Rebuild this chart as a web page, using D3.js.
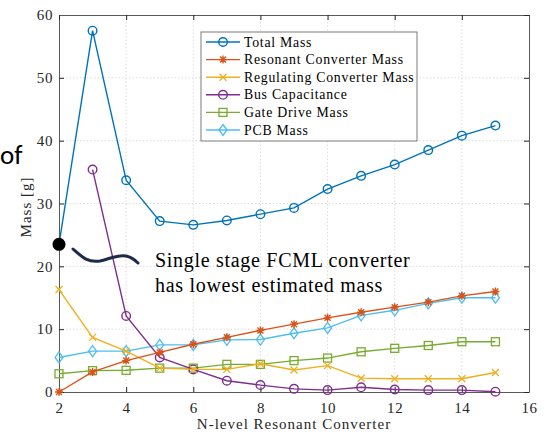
<!DOCTYPE html>
<html>
<head>
<meta charset="utf-8">
<script src="https://cdn.jsdelivr.net/npm/d3@7"></script>
<style>
  body { margin: 0; background: #fff; }
  svg { display: block; }
</style>
</head>
<body>
<svg id="chart" width="551" height="439"></svg>
<script>
// N-level values on the x axis
let levels = [2, 3, 4, 5, 6, 7, 8, 9, 10, 11, 12, 13, 14, 15];

let totalMass = [23.5, 57.5, 33.7, 27.2, 26.6, 27.3, 28.3, 29.3, 32.3, 34.4, 36.2, 38.5, 40.8, 42.4];
let resonantMass = [0, 3.2, 5.0, 6.3, 7.6, 8.7, 9.8, 10.8, 11.8, 12.7, 13.5, 14.3, 15.3, 16.0];
let regulatingMass = [16.3, 8.7, 6.5, 3.8, 3.6, 3.6, 4.5, 3.5, 4.2, 2.2, 2.1, 2.1, 2.1, 3.1];
let busCap = [null, 35.4, 12.1, 5.5, 3.6, 1.8, 1.1, 0.5, 0.3, 0.75, 0.4, 0.3, 0.3, 0.05];
let gateDrive = [2.9, 3.4, 3.45, 3.8, 3.8, 4.4, 4.4, 5.0, 5.4, 6.4, 6.95, 7.4, 8.0, 8.0];
let pcbMass = [5.5, 6.5, 6.5, 7.5, 7.5, 8.3, 8.35, 9.35, 10.2, 12.2, 13.0, 14.1, 15.0, 15.0];

let seriesNames = ['Total Mass', 'Resonant Converter Mass', 'Regulating Converter Mass',
  'Bus Capacitance', 'Gate Drive Mass', 'PCB Mass'];
let seriesValues = [totalMass, resonantMass, regulatingMass, busCap, gateDrive, pcbMass];
let seriesColors = ['#0072BD', '#D95319', '#EDB120', '#7E2F8E', '#77AC30', '#4DBEEE'];
let seriesMarkers = ['circle', 'asterisk', 'cross', 'circle', 'square', 'diamond'];

let xTicks = [2, 4, 6, 8, 10, 12, 14, 16];
let yTicks = [0, 10, 20, 30, 40, 50, 60];

let svg = d3.select('#chart');
let margin = { left: 59, right: 22, top: 15, bottom: 47 };
let width = 551 - margin.left - margin.right;
let height = 439 - margin.top - margin.bottom;
let serif = '"Liberation Serif", "Times New Roman", serif';

let x = d3.scaleLinear().domain([2, 16]).range([0, width]);
let y = d3.scaleLinear().domain([0, 60]).range([height, 0]);

// leftover slide text at the left edge
svg.append('text')
  .attr('x', 0).attr('y', 164)
  .style('font-family', 'Carlito, "Open Sans", sans-serif')
  .style('font-size', '27px')
  .attr('fill', '#000')
  .text('of');

let g = svg.append('g').attr('transform', `translate(${margin.left},${margin.top})`);

// grid
g.selectAll('.gx').data(xTicks.slice(1, -1)).enter().append('line')
  .attr('x1', (d) => x(d)).attr('x2', (d) => x(d))
  .attr('y1', 0).attr('y2', height)
  .attr('stroke', '#dcdcdc').attr('stroke-dasharray', '1.5,2');
g.selectAll('.gy').data(yTicks.slice(1, -1)).enter().append('line')
  .attr('y1', (d) => y(d)).attr('y2', (d) => y(d))
  .attr('x1', 0).attr('x2', width)
  .attr('stroke', '#dcdcdc').attr('stroke-dasharray', '1.5,2');

// axes, ticks inward on all sides
let axisStyle = (sel) => {
  sel.select('.domain').attr('stroke', '#5a5a5a');
  sel.selectAll('.tick line').attr('stroke', '#262626');
  sel.selectAll('text').style('font-family', serif).style('font-size', '15px')
    .style('letter-spacing', '0.6px').attr('fill', '#262626');
};
g.append('g').attr('transform', `translate(0,${height})`)
  .call(d3.axisBottom(x).tickValues(xTicks).tickSize(-5).tickPadding(10).tickSizeOuter(0))
  .call(axisStyle);
g.append('g')
  .call(d3.axisLeft(y).tickValues(yTicks).tickSize(-5).tickPadding(6).tickSizeOuter(0))
  .call(axisStyle);
g.append('g')
  .call(d3.axisTop(x).tickValues(xTicks).tickSize(-5).tickFormat('').tickSizeOuter(0))
  .call(axisStyle);
g.append('g').attr('transform', `translate(${width},0)`)
  .call(d3.axisRight(y).tickValues(yTicks).tickSize(-5).tickFormat('').tickSizeOuter(0))
  .call(axisStyle);

// axis labels
svg.append('text')
  .attr('x', margin.left + width / 2).attr('y', 429)
  .attr('text-anchor', 'middle')
  .style('font-family', serif).style('font-size', '15px').style('letter-spacing', '1px')
  .attr('fill', '#262626')
  .text('N-level Resonant Converter');
svg.append('text')
  .attr('transform', 'translate(31,207) rotate(-90)')
  .attr('text-anchor', 'middle')
  .style('font-family', serif).style('font-size', '15px').style('letter-spacing', '1px')
  .attr('fill', '#262626')
  .text('Mass [g]');

function drawMarker(sel, type, color) {
  if (type === 'circle') {
    sel.append('circle').attr('r', 4.3).attr('fill', 'none').attr('stroke', color).attr('stroke-width', 1.4);
  } else if (type === 'square') {
    sel.append('rect').attr('x', -4).attr('y', -4).attr('width', 8).attr('height', 8)
      .attr('fill', 'none').attr('stroke', color).attr('stroke-width', 1.3);
  } else if (type === 'diamond') {
    sel.append('path').attr('d', 'M0,-5.5L4,0L0,5.5L-4,0Z')
      .attr('fill', 'none').attr('stroke', color).attr('stroke-width', 1.3);
  } else if (type === 'cross') {
    sel.append('path').attr('d', 'M-3.5,-3.5L3.5,3.5M-3.5,3.5L3.5,-3.5')
      .attr('stroke', color).attr('stroke-width', 1.3);
  } else if (type === 'asterisk') {
    sel.append('path').attr('d', 'M-4,0L4,0M0,-4L0,4M-3,-3L3,3M-3,3L3,-3')
      .attr('stroke', color).attr('stroke-width', 1.4);
  }
}

let line = d3.line()
  .defined((d) => d.v !== null)
  .x((d) => x(d.n))
  .y((d) => y(d.v));

// draw series, last one first so total mass is on top
seriesValues.map((vals, i) => i).reverse().forEach((i) => {
  let pts = levels.map((n, j) => ({ n: n, v: seriesValues[i][j] }));
  g.append('path').datum(pts)
    .attr('d', line)
    .attr('fill', 'none')
    .attr('stroke', seriesColors[i])
    .attr('stroke-width', 1.4);
  pts.filter((d) => d.v !== null).forEach((d) => {
    let m = g.append('g').attr('transform', `translate(${x(d.n)},${y(d.v)})`);
    drawMarker(m, seriesMarkers[i], seriesColors[i]);
  });
});

// legend
let legend = svg.append('g').attr('transform', 'translate(201,32)');
legend.append('rect').attr('width', 216).attr('height', 109)
  .attr('fill', '#fff').attr('stroke', '#7a7a7a').attr('stroke-width', 1);
seriesNames.forEach((name, i) => {
  let row = legend.append('g').attr('transform', `translate(0,${10 + i * 17.6})`);
  row.append('line').attr('x1', 5).attr('x2', 39).attr('stroke', seriesColors[i]).attr('stroke-width', 1.4);
  let m = row.append('g').attr('transform', 'translate(22,0)');
  drawMarker(m, seriesMarkers[i], seriesColors[i]);
  row.append('text').attr('x', 43).attr('y', 4.5)
    .style('font-family', serif).style('font-size', '13.8px').style('letter-spacing', '0.75px')
    .attr('fill', '#000')
    .text(name);
});

// annotation
svg.append('path')
  .attr('d', 'M73,249 C82,257 88,263 100,261 C110,259 118,254 126,256 C131,257 135,260 138,263')
  .attr('fill', 'none').attr('stroke', '#1c2b4a').attr('stroke-width', 3).attr('stroke-linecap', 'round');
svg.append('circle').attr('cx', margin.left + x(2)).attr('cy', margin.top + y(totalMass[0]))
  .attr('r', 6.5).attr('fill', '#000');
svg.append('text').attr('x', 155).attr('y', 267)
  .style('font-family', serif).style('font-size', '20px').style('letter-spacing', '0.7px')
  .attr('fill', '#000')
  .text('Single stage FCML converter');
svg.append('text').attr('x', 155).attr('y', 292)
  .style('font-family', serif).style('font-size', '20px').style('letter-spacing', '0.7px')
  .attr('fill', '#000')
  .text('has lowest estimated mass');
</script>
</body>
</html>
